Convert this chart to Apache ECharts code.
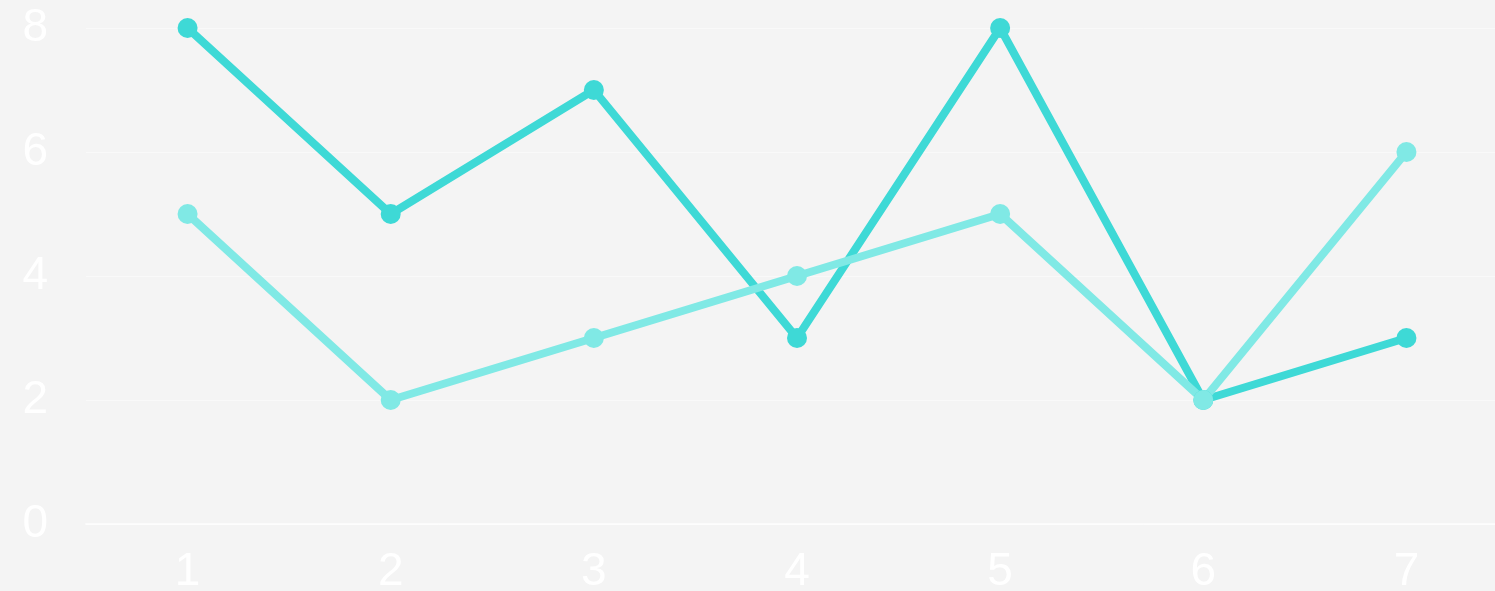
<!DOCTYPE html>
<html>
<head>
<meta charset="utf-8">
<script src="https://cdn.jsdelivr.net/npm/echarts@6/dist/echarts.min.js"></script>
<style>
html,body{margin:0;padding:0;background:#f4f4f4;overflow:hidden;}
#c{width:1495px;height:591px;}
</style>
</head>
<body>
<div id="c"></div>
<script>
const categories = ['1','2','3','4','5','6','7'];
const seriesA = [8,5,7,3,8,2,3];
const seriesB = [5,2,3,4,5,2,6];

const chart = echarts.init(document.getElementById('c'));
chart.setOption({
  backgroundColor: '#f4f4f4',
  animation: false,
  grid: {left: 86, top: 28, width: 1422, height: 496, containLabel: false, outerBoundsMode: 'none'},
  xAxis: {
    type: 'category',
    data: categories,
    boundaryGap: true,
    axisLine: {lineStyle: {color: 'rgba(255,255,255,0.6)', width: 2}},
    axisTick: {show: false},
    axisLabel: {color: '#ffffff', fontSize: 46, fontFamily: 'Liberation Sans, Arial, sans-serif', margin: 25}
  },
  yAxis: {
    type: 'value',
    min: 0, max: 8, interval: 2,
    axisLine: {show: false},
    axisTick: {show: false},
    splitLine: {lineStyle: {color: 'rgba(255,255,255,0.45)', width: 1}},
    axisLabel: {color: '#ffffff', fontSize: 46, fontFamily: 'Liberation Sans, Arial, sans-serif', margin: 38}
  },
  series: [
    {
      type: 'line', data: seriesA, symbol: 'circle', symbolSize: 20,
      lineStyle: {color: '#3ed9d6', width: 8},
      itemStyle: {color: '#3ed9d6'}
    },
    {
      type: 'line', data: seriesB, symbol: 'circle', symbolSize: 20,
      lineStyle: {color: '#80e9e5', width: 8},
      itemStyle: {color: '#80e9e5'}
    }
  ]
});
</script>
</body>
</html>
